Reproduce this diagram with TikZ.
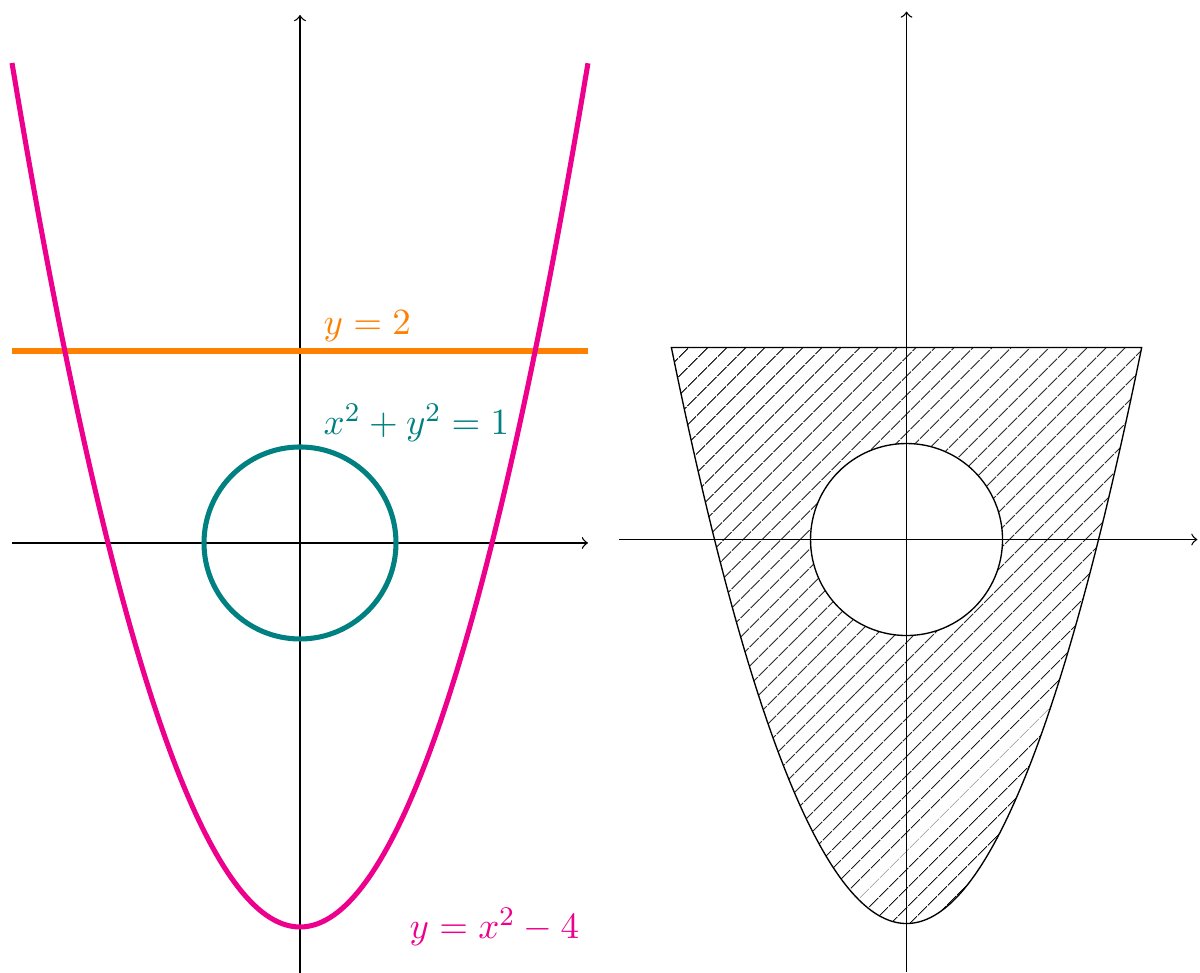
\documentclass[tikz,border=0pt]{standalone}
\usepackage{amsmath,amssymb}
\usepackage{tikz}
\usetikzlibrary{patterns.meta}
\definecolor{parabcol}{RGB}{236,0,140}
\definecolor{linecol}{RGB}{255,128,0}
\definecolor{circcol}{RGB}{0,128,128}
\tikzset{
  axisln/.style  = {->, line width=0.4pt},
  curve/.style   = {line width=1.5pt},
  hatch/.style   = {pattern={Lines[angle=45,distance=4pt,line width=0.3pt]},
                    pattern color=black, even odd rule, line width=0.4pt},
  lbl/.style     = {anchor=base west, inner sep=0pt, font=\fontsize{10.95}{13}\selectfont}
}
\begin{document}
\begin{tikzpicture}[x=1cm, y=1cm]
\useasboundingbox (-3.125,-4.479) rectangle (9.375,5.656);
% left panel: the three curves
\draw[axisln] (-3,0) -- (3,0);
\draw[axisln] (0,-4.5) -- (0,5.5);
\draw[curve, linecol] (-3,2) -- (3,2);
\draw[curve, circcol] (0,0) circle (1);
\draw[curve, parabcol] plot[smooth, samples=80, domain=-3:3] (\x, {\x*\x-4});
\node[lbl, text=linecol] (lblline) at (0.24, 2.167) {$y=2$};
\node[lbl, text=circcol] (lblcirc) at (0.24, 1.125) {$x^2+y^2=1$};
\node[lbl, text=parabcol] (lblparab) at (1.135,-4.125) {$y=x^2-4$};
% right panel: the region between them
\begin{scope}[shift={(6.318,0.036)}]
\draw[hatch] plot[smooth, samples=80, domain=-2.4495:2.4495] (\x, {\x*\x-4}) -- cycle
             (0,0) circle (1);
\draw[axisln] (-3,0) -- (3.03,0);
\draw[axisln] (0,-4.5) -- (0,5.5);
\end{scope}
\end{tikzpicture}
\end{document}
